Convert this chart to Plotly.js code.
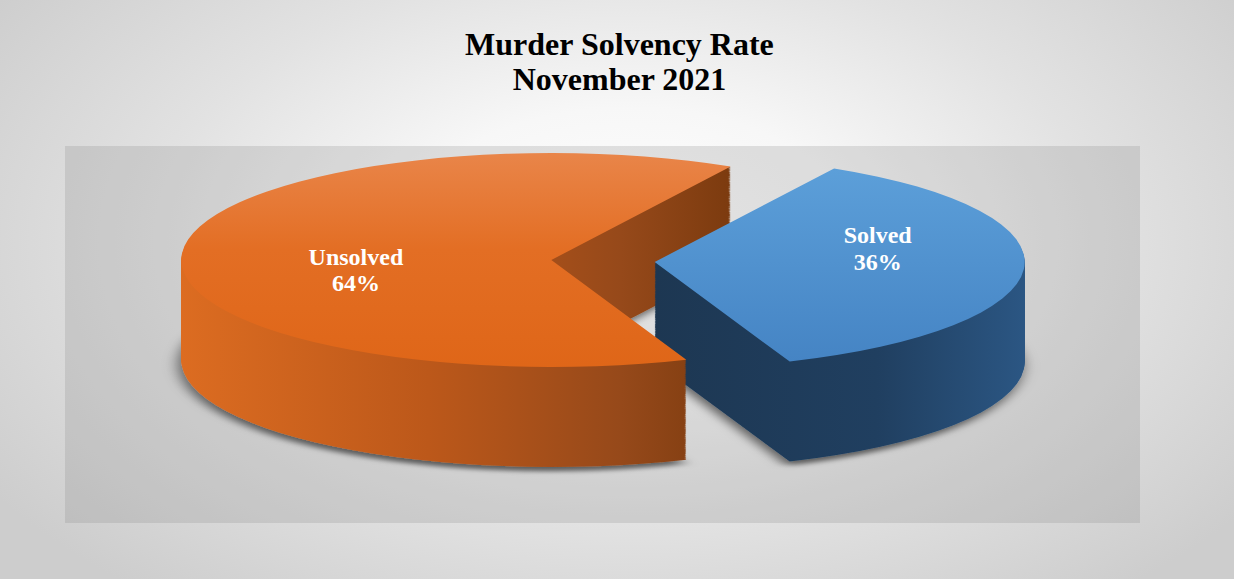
<!DOCTYPE html>
<html>
<head>
<meta charset="utf-8">
<script src="https://cdn.plot.ly/plotly-3.0.1.min.js"></script>
<style>
  html, body { margin:0; padding:0; }
  body { width:1234px; height:579px; overflow:hidden;
    background: radial-gradient(ellipse 62% 78% at 51% 42%, #ffffff 0%, #f7f7f7 30%, #e2e2e2 62%, #cdcdcd 100%); }
  #chart { width:1234px; height:579px; }
</style>
</head>
<body>
<div id="chart"></div>
<script>
// ---- data ----
const categories = ["Solved", "Unsolved"];
const values = [36, 64];
const topColors = ["#4B8DCC", "#E36C20"];
const sideColors = ["#1F3D5D", "#B4531A"];
const pulls = [0.14, 0.14];
const titleLines = ["Murder Solvency Rate", "November 2021"];

// ---- geometry / style ----
const W = 1234, H = 579;
const CX = 603, CY = 261;          // centre of the top face on screen
const R = 150, P = 0.14;
const HALF = R * (1 + P);
const SX = 370 / R, SY = 107 / R;   // ellipse squash
const DEPTH = 100 / SY, N = 90;     // extrusion
const FONT = "Liberation Serif, Times New Roman, serif";
// perspective-like label offsets on screen (px) for [Solved, Unsolved]
const labelShift = [[30, -16], [-10, 15]];

function dom(shift) {
  return { x: [(CX - HALF) / W, (CX + HALF) / W],
           y: [1 - (CY + shift + HALF) / H, 1 - (CY + shift - HALF) / H] };
}

const traces = [];
for (let i = N; i >= 1; i--) {
  traces.push({
    type: "pie", labels: categories, values: values, sort: false,
    direction: "clockwise", rotation: 29, pull: pulls,
    marker: { colors: sideColors, line: { width: 0 } },
    textinfo: "none", hoverinfo: "skip", showlegend: false,
    domain: dom(DEPTH * i / N)
  });
}
traces.push({
  type: "pie", labels: categories, values: values, sort: false,
  direction: "clockwise", rotation: 29, pull: pulls,
  marker: { colors: topColors, line: { width: 0 } },
  texttemplate: "%{label}<br>%{percent:.0%}",
  textposition: "inside", insidetextorientation: "horizontal",
  textfont: { family: FONT, size: 24, color: "#ffffff", weight: "bold" },
  hoverinfo: "label+percent", showlegend: false,
  domain: dom(0)
});

const layout = {
  width: W, height: H,
  margin: { l: 0, r: 0, t: 0, b: 0 },
  paper_bgcolor: "rgba(0,0,0,0)",
  plot_bgcolor: "rgba(0,0,0,0)",
  title: {
    text: "<b>" + titleLines.join("<br>") + "</b>",
    font: { family: FONT, size: 32, color: "#000000" },
    x: 0.502, xanchor: "center",
    y: 1 - 55 / H, yanchor: "middle", yref: "paper"
  },
  shapes: [{
    type: "rect", xref: "paper", yref: "paper", layer: "below",
    x0: 65 / W, x1: 1140 / W, y0: 1 - 523 / H, y1: 1 - 146 / H,
    fillcolor: "rgba(140,140,140,0.24)", line: { width: 0 }
  }]
};

Plotly.newPlot("chart", traces, layout, { displayModeBar: false, staticPlot: true }).then(gd => {
  const NS = "http://www.w3.org/2000/svg";
  const svg = gd.querySelector("svg.main-svg");
  const defs = document.createElementNS(NS, "defs");
  svg.insertBefore(defs, svg.firstChild);
  function grad(id, x2, y2, stops) {
    const lg = document.createElementNS(NS, "linearGradient");
    lg.setAttribute("id", id);
    lg.setAttribute("x1", "0"); lg.setAttribute("y1", "0");
    lg.setAttribute("x2", x2); lg.setAttribute("y2", y2);
    stops.forEach(([o, c]) => {
      const s = document.createElementNS(NS, "stop");
      s.setAttribute("offset", o); s.setAttribute("stop-color", c);
      lg.appendChild(s);
    });
    defs.appendChild(lg);
  }
  grad("gBlueTop", "0", "1", [[0, "#5C9FD9"], [1, "#4584C4"]]);
  grad("gOrangeTop", "0", "1", [[0, "#E98549"], [0.45, "#E36E24"], [1, "#DF6618"]]);
  grad("gBlueSide", "1", "0", [[0, "#1D3752"], [0.6, "#203F60"], [1, "#2B5683"]]);
  grad("gOrangeSide", "1", "0", [[0, "#DC6C21"], [0.45, "#BC581A"], [0.8, "#96491A"], [1, "#7C3B0F"]]);
  const filt = document.createElementNS(NS, "filter");
  filt.setAttribute("id", "pieShadow");
  filt.setAttribute("x", "-20%"); filt.setAttribute("y", "-20%");
  filt.setAttribute("width", "140%"); filt.setAttribute("height", "140%");
  const ds = document.createElementNS(NS, "feDropShadow");
  ds.setAttribute("dx", "-1"); ds.setAttribute("dy", "6");
  ds.setAttribute("stdDeviation", "3"); ds.setAttribute("flood-color", "#000");
  ds.setAttribute("flood-opacity", "0.55");
  filt.appendChild(ds); defs.appendChild(filt);

  const layer = gd.querySelector(".pielayer");
  layer.setAttribute("transform",
    `translate(${CX},${CY}) scale(${SX},${SY}) translate(${-CX},${-CY})`);
  const tr = layer.querySelectorAll("g.trace");
  tr.forEach((t, k) => {
    const isTop = k === tr.length - 1;
    const paths = t.querySelectorAll("path.surface");
    paths.forEach((p, j) => {
      const id = (j === 0 ? "gBlue" : "gOrange") + (isTop ? "Top" : "Side");
      p.style.fill = `url(#${id})`;
    });
    if (k === 0) t.setAttribute("filter", "url(#pieShadow)");
  });
  const top = tr[tr.length - 1];
  top.querySelectorAll("g.slicetext").forEach((g, j) => {
    g.querySelectorAll("tspan.line").forEach((ts, i) => {
      if (i > 0) ts.setAttribute("dy", (i * 1.12) + "em");
    });
    const b = g.getBBox();
    const x = b.x + b.width / 2, y = b.y + b.height / 2;
    const sh = labelShift[j] || [0, 0];
    const prev = g.getAttribute("transform") || "";
    g.setAttribute("transform",
      `translate(${sh[0] / SX},${sh[1] / SY}) translate(${x},${y}) scale(${1 / SX},${1 / SY}) translate(${-x},${-y}) ${prev}`);
  });
  // tighter title line spacing (Times-like leading)
  gd.querySelectorAll(".gtitle tspan.line").forEach((ts, i) => {
    if (i > 0) ts.setAttribute("dy", (i * 1.09) + "em");
  });
});
</script>
</body>
</html>
